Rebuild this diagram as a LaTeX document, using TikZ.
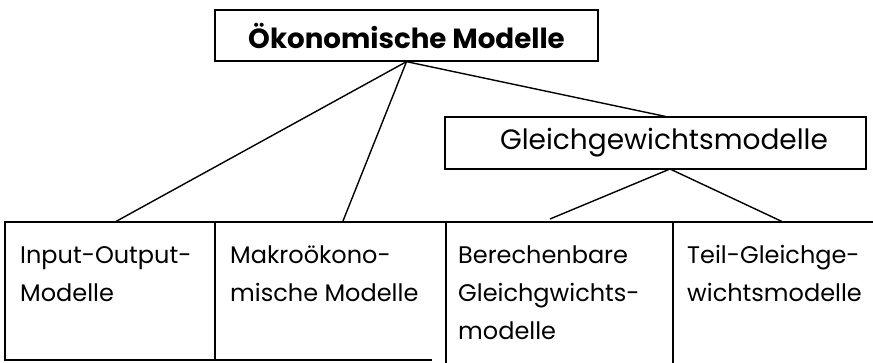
\documentclass[tikz,border=0pt]{standalone}
\usepackage{fontspec}
\setmainfont{Poppins}
\begin{document}
\begin{tikzpicture}[x=1pt,y=1pt,
  frame/.style={draw, line width=1.3pt, inner sep=0pt},
  link/.style={line width=1.4pt},
  grid/.style={line width=1.3pt},
  cell/.style={anchor=base west, align=left, inner sep=0pt, font=\fontsize{24}{38}\selectfont},
  label/.style={inner sep=0pt, font=\fontsize{28}{34}\selectfont}]
\useasboundingbox (0,0) rectangle (873,-363);

% top level
\node[frame, minimum width=383pt, minimum height=51pt,
      font=\fontsize{27.7}{32}\selectfont\bfseries] (oek) at (406.5,-35.5) {Ökonomische Modelle};

% equilibrium group
\node[frame, minimum width=421pt, minimum height=52pt] (ggw) at (655.5,-143) {};
\node[label] (ggwtxt) at (664,-143) {Gleichgewichtsmodelle};
\coordinate (ggwtop) at (668,-117);
\coordinate (ggwbot) at (670,-169);

% bottom row of cells
\draw[grid] (873,-222) -- (5,-222) -- (5,-360) -- (432,-360);
\draw[grid] (215,-222) -- (215,-360);
\draw[grid] (446,-222) -- (446,-363);
\draw[grid] (673,-222) -- (673,-363);

% anchored at the baseline of each cell's last line
\node[cell] (io) at (20,-302) {Input-Output-\\Modelle};
\node[cell] (makro) at (230,-302) {Makroökono-\\mische Modelle};
\node[cell] (berech) at (458,-340) {Berechenbare\\Gleichgwichts-\\modelle};
\node[cell] (teil) at (687,-302) {Teil-Gleichge-\\wichtsmodelle};

\coordinate (ioin) at (115,-222);
\coordinate (makroin) at (343,-221);
\coordinate (berechin) at (550,-219);
\coordinate (teilin) at (783,-222);

% connectors
\draw[link] (oek.south) -- (ioin);
\draw[link] (oek.south) -- (makroin);
\draw[link] (oek.south) -- (ggwtop);
\draw[link] (ggwbot) -- (berechin);
\draw[link] (ggwbot) -- (teilin);
\end{tikzpicture}
\end{document}
